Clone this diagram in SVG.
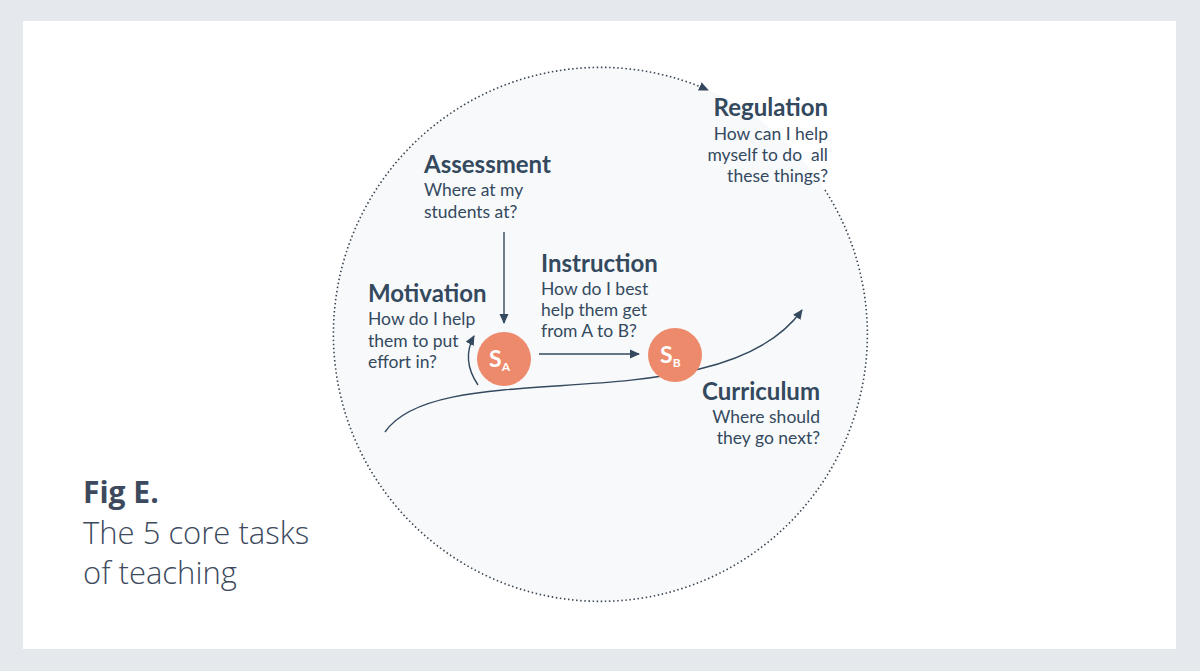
<svg xmlns="http://www.w3.org/2000/svg" width="1200" height="671" viewBox="0 0 1200 671">
<style>
.t{font-family:Lato,"Open Sans",sans-serif;fill:#34495e}
.h{font-size:24px;font-weight:bold}
.b{font-size:17.5px}
.cap{font-family:"Open Sans","Liberation Sans",sans-serif;fill:#3d4a5e}
.con{fill:none;stroke:#34495e;stroke-width:1.4}
.dot{fill:none;stroke:#3a4452;stroke-width:1.6;stroke-dasharray:1.5 2.6}
.st{fill:#ee8a6c}
.sl{font-family:Lato,sans-serif;fill:#fff;font-weight:bold}
</style>
<defs>
<marker id="ah" viewBox="0 0 10 10" refX="9" refY="5" markerWidth="10" markerHeight="10" markerUnits="userSpaceOnUse" orient="auto">
<path d="M0,0.5 L10,5 L0,9.5 Z" fill="#34495e"/>
</marker>
</defs>
<rect x="0" y="0" width="1200" height="671" fill="#e5e8ed"/>
<rect x="23" y="21" width="1153" height="628" fill="#ffffff"/>
<circle cx="600" cy="334" r="267" fill="#f7f9fb"/>
<g id="connectors">
<path class="dot" d="M825,190 A267,267 0 1 1 708,90" marker-end="url(#ah)"/>
<path class="con" d="M385,432 C440,352 720,425 802,310" marker-end="url(#ah)"/>
<path class="con" d="M504,232 L504,323" marker-end="url(#ah)"/>
<path class="con" d="M478,385 Q461,360 474,336" marker-end="url(#ah)"/>
<path class="con" d="M539,354 L639,354" marker-end="url(#ah)"/>
</g>
<g id="sa">
<circle class="st" cx="504" cy="359" r="27"/>
<text class="sl" x="489" y="367" font-size="23">S<tspan font-size="12" dy="4">A</tspan></text>
</g>
<g id="sb">
<circle class="st" cx="675" cy="355" r="27"/>
<text class="sl" x="660" y="363" font-size="23">S<tspan font-size="12" dy="4">B</tspan></text>
</g>
<g id="regulation">
<text class="t h" x="828" y="116" text-anchor="end">Regulation</text>
<text class="t b" text-anchor="end"><tspan x="828" y="140">How can I help</tspan><tspan x="828" y="161">myself to do&#160; all</tspan><tspan x="828" y="182">these things?</tspan></text>
</g>
<g id="assessment">
<text class="t h" x="424" y="173">Assessment</text>
<text class="t b"><tspan x="424" y="196">Where at my</tspan><tspan x="424" y="218">students at?</tspan></text>
</g>
<g id="motivation">
<text class="t h" x="368" y="302">Motivation</text>
<text class="t b"><tspan x="368" y="325">How do I help</tspan><tspan x="368" y="347">them to put</tspan><tspan x="368" y="368">effort in?</tspan></text>
</g>
<g id="instruction">
<text class="t h" x="541" y="272">Instruction</text>
<text class="t b"><tspan x="541" y="295">How do I best</tspan><tspan x="541" y="316">help them get</tspan><tspan x="541" y="337">from A to B?</tspan></text>
</g>
<g id="curriculum">
<text class="t h" x="820" y="400" text-anchor="end">Curriculum</text>
<text class="t b" text-anchor="end"><tspan x="820" y="423">Where should</tspan><tspan x="820" y="444">they go next?</tspan></text>
</g>
<g id="caption">
<text class="cap" x="83" y="503" font-size="30" font-weight="bold" fill="#2f3b4f">Fig E.</text>
<text class="cap" x="83" y="544" font-size="31" font-weight="300">The 5 core tasks</text>
<text class="cap" x="83" y="584" font-size="31" font-weight="300">of teaching</text>
</g>
</svg>
